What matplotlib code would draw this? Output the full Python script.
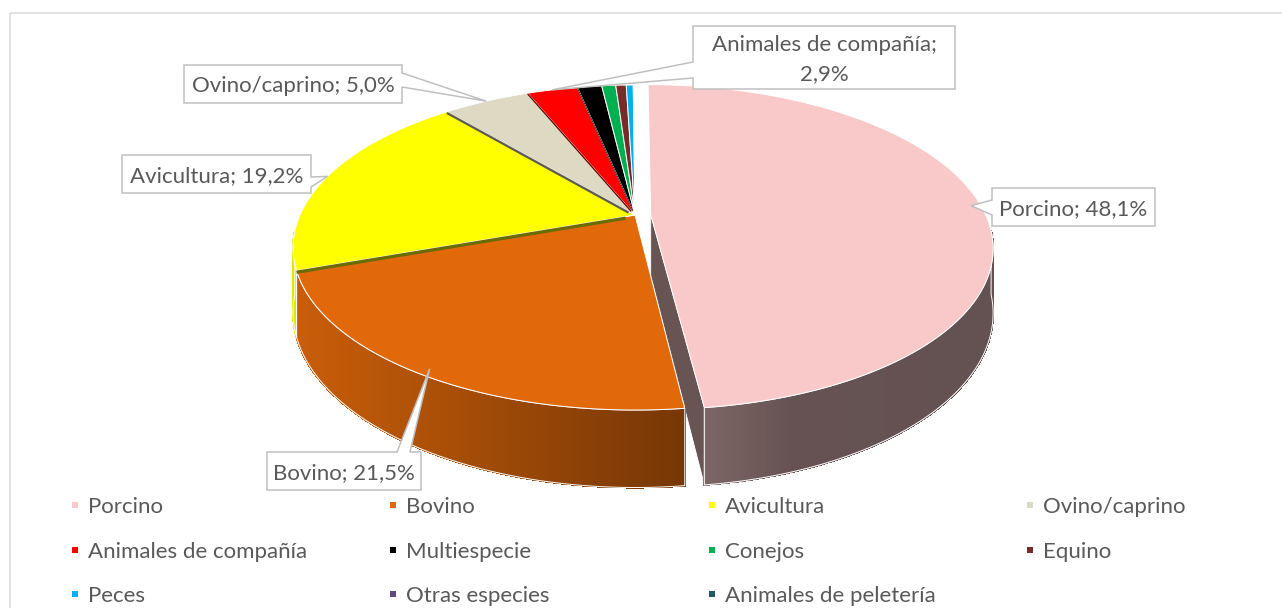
import numpy as np
import matplotlib
matplotlib.use('Agg')
import matplotlib.pyplot as plt
from matplotlib.patches import Polygon, Rectangle
from matplotlib.collections import PolyCollection
from matplotlib.colors import to_rgb

# ---------------- data ----------------
categories = ['Porcino', 'Bovino', 'Avicultura', 'Ovino/caprino',
              'Animales de compañía', 'Multiespecie', 'Conejos', 'Equino',
              'Peces', 'Otras especies', 'Animales de peletería']
values = [48.1, 21.5, 19.2, 5.0, 2.9, 1.4, 0.8, 0.6, 0.4, 0.05, 0.05]
colors = ['#F9C9C9', '#E1690A', '#FFFF00', '#DDD9C3', '#FF0000', '#000000',
          '#00B050', '#772C2A', '#00B0F0', '#604A7B', '#215968']
labelled = [0, 1, 2, 3, 4]

# ---------------- style / layout ----------------
FONT = 'Lato'
TXT = '#595959'
EDGE = '#BFBFBF'
PX = 0.72  # points per pixel at 100 dpi

cx, cy = 635.0, 215.0   # apex of the pie on screen
R, Ry = 335.0, 156.0    # radii
K = 0.2                 # perspective strength
H = 62.0                # thickness
explode = [0.047] + [0.0] * (len(values) - 1)

fig = plt.figure(figsize=(12.82, 6.08), dpi=100)
ax = fig.add_axes([0, 0, 1, 1])
ax.set_xlim(0, 1282)
ax.set_ylim(608, 0)
ax.axis('off')

total = float(sum(values))
bounds = np.concatenate([[0.0], np.cumsum(values) / total * 360.0])
mids = (bounds[:-1] + bounds[1:]) / 2


def offset(i):
    m = np.radians(mids[i])
    return explode[i] * np.sin(m), -explode[i] * np.cos(m)


def proj(theta, r, depth, i):
    th = np.radians(np.asarray(theta, dtype=float))
    du, dv = offset(i)
    u = r * np.sin(th) + du
    v = -r * np.cos(th) + dv
    s = 1.0 / (1.0 - K * v)
    X = cx + R * u * s
    Y = cy + Ry * v * s + H * s * depth
    return X, Y, v


def shade(c, f):
    return tuple(min(1.0, x * f) for x in to_rgb(c))


def side_factor(x):
    return np.interp(x, [290, 680, 790, 1000], [0.9, 0.53, 0.41, 0.40])


# ---- exploded slice radial wall (end of Porcino) ----
for i in range(len(values)):
    if explode[i] > 0:
        b = bounds[i + 1]
        Xc0, Yc0, _ = proj(b, 0, 0, i)
        Xr0, Yr0, _ = proj(b, 1, 0, i)
        Xr1, Yr1, _ = proj(b, 1, 1, i)
        Xc1, Yc1, _ = proj(b, 0, 1, i)
        ax.add_patch(Polygon([(Xc0, Yc0), (Xr0, Yr0), (Xr1, Yr1), (Xc1, Yc1)],
                             closed=True, facecolor=shade(colors[i], 0.42),
                             edgecolor='white', lw=0.6, zorder=1.5))

# ---- outer side walls ----
quads, qcols, qkeys = [], [], []
outlines = []
for i in range(len(values)):
    a0, a1 = bounds[i], bounds[i + 1]
    m = max(2, int(np.ceil((a1 - a0) / 0.4)) + 1)
    th = np.linspace(a0, a1, m)
    Xt, Yt, vt = proj(th, 1, 0, i)
    Xb, Yb, _ = proj(th, 1, 1, i)
    vis = []
    for j in range(m - 1):
        vmid = (vt[j] + vt[j + 1]) / 2
        if vmid < 0.1:
            continue
        vis.extend([j, j + 1])
        quads.append([(Xt[j], Yt[j]), (Xt[j + 1], Yt[j + 1]),
                      (Xb[j + 1], Yb[j + 1]), (Xb[j], Yb[j])])
        f = side_factor((Xt[j] + Xt[j + 1]) / 2)
        qcols.append(shade(colors[i], f))
        qkeys.append(vmid)
    if vis:
        idx = sorted(set(vis))
        pts = [(Xt[j], Yt[j]) for j in idx] + [(Xb[j], Yb[j]) for j in idx[::-1]]
        outlines.append(pts)

order = np.argsort(qkeys)
pc = PolyCollection([quads[o] for o in order],
                    facecolors=[qcols[o] for o in order],
                    edgecolors=[qcols[o] for o in order], linewidths=0.8,
                    antialiaseds=False, zorder=2)
ax.add_collection(pc)
for pts in outlines:
    ax.add_patch(Polygon(pts, closed=True, facecolor='none', edgecolor='white',
                         lw=0.7, zorder=2.5))

# ---- top faces ----
for i in range(len(values)):
    a0, a1 = bounds[i], bounds[i + 1]
    m = max(2, int(np.ceil((a1 - a0) / 0.4)) + 1)
    th = np.linspace(a0, a1, m)
    X, Y, _ = proj(th, 1, 0, i)
    Xc, Yc, _ = proj(0, 0, 0, i)
    verts = [(Xc, Yc)] + list(zip(X, Y))
    ax.add_patch(Polygon(verts, closed=True, facecolor=colors[i],
                         edgecolor='white', lw=0.7, zorder=3))

# ---- radial walls seen through gaps on the left/back side ----
for i in range(1, len(values) - 1):
    b = bounds[i]
    if 180 < b < 360:
        w = 3.5 * (-np.sin(np.radians(b)))
        if w < 0.6:
            continue
        X0, Y0, _ = proj(b, 0.03, 0, i)
        X1, Y1, _ = proj(b, 1.0, 0, i)
        ax.plot([X0, X1], [Y0 + w / 2, Y1 + w / 2], color=shade(colors[i], 0.42),
                lw=w * PX, solid_capstyle='butt', zorder=3.5)

# ---- font size fitted to the legend text width ----
renderer = fig.canvas.get_renderer()
probe = ax.text(0, 0, 'Animales de compañía', fontsize=10, family=FONT)
w10 = probe.get_window_extent(renderer).width
probe.remove()
FS = 10 * 218.0 / w10
CAP = 0.72 * FS / PX  # approx. cap height in pixels


def fmt(i):
    val = ('%.1f' % values[i]).replace('.', ',')
    if len(categories[i]) > 15:
        return categories[i] + ';\n' + val + '%'
    return categories[i] + '; ' + val + '%'


# callout boxes: (x0, y0, x1, y1), pointer edge, pointer base (two coords), tip radius
callouts = {
    0: ((992, 188, 1155, 226), 'left', (200, 215), 0.97),
    1: ((267, 452, 421, 490), 'top', (397, 410), 0.97),
    2: ((122, 155, 311, 193), 'right', (177, 187), 1.0),
    3: ((184, 65, 402, 103), 'right', (73, 87), 1.0),
    4: ((693, 26, 955, 89), 'left', (62, 78), 1.0),
}

for i in labelled:
    (x0, y0, x1, y1), side, (b1, b2), rt = callouts[i]
    tx, ty, _ = proj(mids[i], rt, 0, i)
    tip = (float(tx), float(ty))
    if side == 'left':
        verts = [(x0, y0), (x1, y0), (x1, y1), (x0, y1), (x0, b2), tip, (x0, b1)]
    elif side == 'right':
        verts = [(x0, y0), (x1, y0), (x1, b1), tip, (x1, b2), (x1, y1), (x0, y1)]
    else:  # top
        verts = [(x0, y0), (b1, y0), tip, (b2, y0), (x1, y0), (x1, y1), (x0, y1)]
    ax.add_patch(Polygon(verts, closed=True, facecolor='white', edgecolor=EDGE,
                         lw=1.5 * PX, joinstyle='miter', zorder=5))
    text = fmt(i)
    lines = text.split('\n')
    xc = (x0 + x1) / 2
    yc = (y0 + y1) / 2
    step = 29.0
    for k, ln in enumerate(lines):
        yl = yc + (k - (len(lines) - 1) / 2) * step + CAP / 2
        ax.text(xc, yl, ln, ha='center', va='baseline', fontsize=FS,
                family=FONT, color=TXT, zorder=6)

# ---- legend ----
for idx, cat in enumerate(categories):
    row, col = divmod(idx, 4)
    mx = 75 + 318.3 * col
    base = 513 + 44.5 * row
    ax.add_patch(Rectangle((mx - 3, base - 8 - 3), 6, 6, facecolor=colors[idx],
                           edgecolor='none', zorder=6))
    ax.text(mx + 13, base, cat, ha='left', va='baseline', fontsize=FS,
            family=FONT, color=TXT, zorder=6)

# ---- chart frame ----
ax.add_patch(Rectangle((10, 13), 1400, 700, facecolor='none', edgecolor='#D9D9D9',
                       lw=1.5 * PX, zorder=0.5, clip_on=False))

fig.savefig('out.png', dpi=100)
